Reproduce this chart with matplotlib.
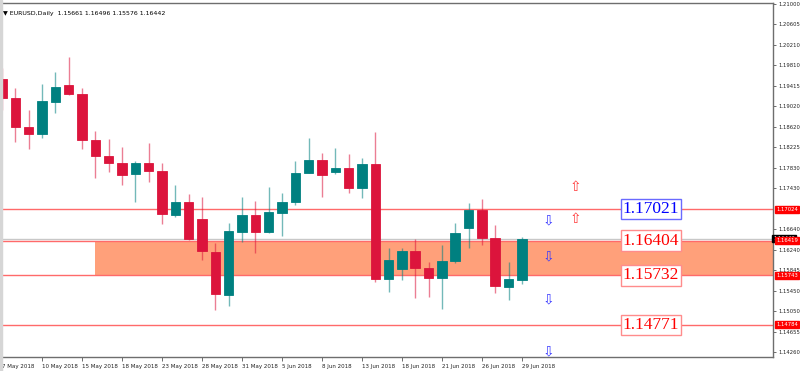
import numpy as np
import matplotlib.pyplot as plt

# daily EURUSD candles, 7 May 2018 .. 29 Jun 2018
opens = [1.19542, 1.19185, 1.18612, 1.18476, 1.19108, 1.19437, 1.19257, 1.18372, 1.18056, 1.17926,
         1.17713, 1.17915, 1.17771, 1.16919, 1.17165, 1.16830, 1.16203, 1.15364, 1.16590, 1.16908,
         1.16590, 1.16958, 1.17159, 1.17733, 1.17979, 1.17746, 1.17818, 1.17442, 1.17907, 1.15674,
         1.15868, 1.16216, 1.15887, 1.15699, 1.16017, 1.16656, 1.17016, 1.16462, 1.15525, 1.15661]
highs = [1.19755, 1.19367, 1.18947, 1.19451, 1.19683, 1.19979, 1.19379, 1.18540, 1.18380, 1.18230,
         1.17953, 1.18302, 1.17915, 1.17494, 1.17320, 1.17268, 1.16377, 1.16753, 1.17256, 1.17185,
         1.17461, 1.17334, 1.17965, 1.18411, 1.18108, 1.18211, 1.18095, 1.18012, 1.18521, 1.16280,
         1.16280, 1.16449, 1.15997, 1.16332, 1.16753, 1.17140, 1.17217, 1.16720, 1.16009, 1.16496]
lows = [1.18947, 1.18333, 1.18192, 1.18411, 1.18883, 1.19238, 1.18192, 1.17636, 1.17752, 1.17494,
        1.17165, 1.17558, 1.16733, 1.16880, 1.16429, 1.16042, 1.15073, 1.15157, 1.16396, 1.16172,
        1.16559, 1.16512, 1.17107, 1.17721, 1.17256, 1.17707, 1.17334, 1.17248, 1.15622, 1.15422,
        1.15654, 1.15300, 1.15331, 1.15087, 1.15978, 1.16280, 1.16332, 1.15408, 1.15267, 1.15576]
closes = [1.19185, 1.18612, 1.18476, 1.19121, 1.19398, 1.19251, 1.18366, 1.18062, 1.17926, 1.17688,
          1.17911, 1.17766, 1.16927, 1.17165, 1.16449, 1.16210, 1.15377, 1.16603, 1.16913, 1.16584,
          1.16971, 1.17165, 1.17733, 1.17973, 1.17682, 1.17824, 1.17442, 1.17907, 1.15674, 1.16048,
          1.16216, 1.15881, 1.15699, 1.16017, 1.16565, 1.17016, 1.16462, 1.15538, 1.15674, 1.16442]

date_labels = ['7 May 2018', '10 May 2018', '15 May 2018', '18 May 2018', '23 May 2018',
               '28 May 2018', '31 May 2018', '5 Jun 2018', '8 Jun 2018', '13 Jun 2018',
               '18 Jun 2018', '21 Jun 2018', '26 Jun 2018', '29 Jun 2018']
price_ticks = [1.21000, 1.20605, 1.20210, 1.19810, 1.19415, 1.19020, 1.18620, 1.18225,
               1.17830, 1.17430, 1.16640, 1.16240, 1.15845, 1.15450, 1.15050,
               1.14655, 1.14260]

# levels
level_lines = [1.17024, 1.16419, 1.15743, 1.14784]
zone_top, zone_bottom = 1.16419, 1.15743
zone_start = 7  # bar index where the zone begins
bid = 1.16442
box_texts = ['1.17021', '1.16404', '1.15732', '1.14771']
box_colors = ['#0000FF', '#FF0000', '#FF0000', '#FF0000']

# signal arrows (bar index, price)
down_x = [41, 41, 41, 41]
down_y = [1.16816, 1.16105, 1.15280, 1.14265]
up_x = [43, 43]
up_y = [1.17461, 1.16829]

red = '#DC143C'
teal = '#008080'

fig = plt.figure(figsize=(8, 3.71), dpi=100)
ax = fig.add_axes([0, 14 / 371, 773 / 800, 354 / 371])

idx = np.arange(len(opens))
o = np.array(opens); c = np.array(closes)
colors = [teal if cc >= oo else red for oo, cc in zip(o, c)]
ax.vlines(idx, lows, highs, colors=colors, linewidth=1, alpha=0.55, zorder=3)
ax.bar(idx, np.abs(c - o), bottom=np.minimum(o, c), width=0.72, color=colors,
       edgecolor=colors, linewidth=0.6, zorder=4)

# zone and lines
ax.fill_between([zone_start, 60], zone_bottom, zone_top, color='#FFA07A', zorder=1, linewidth=0)
ax.axhline(bid, color='#C8C8C8', linewidth=1, zorder=1.5)
for lv in level_lines:
    ax.axhline(lv, color='#FF6A6A', linewidth=1, zorder=2)

for lv, txt, col in zip(level_lines, box_texts, box_colors):
    edge = '#6A6AFF' if col == '#0000FF' else '#FF8C8C'
    ax.text(46.55, lv, txt, color=col, fontsize=12.5, family='Liberation Serif',
            ha='left', va='center', zorder=6,
            bbox=dict(boxstyle='square,pad=0.12', fc='white', ec=edge, lw=1))

for x, y in zip(down_x, down_y):
    ax.text(x, y, '\u21e9', color='#3A3AFF', fontsize=10, ha='center', va='center', zorder=6)
for x, y in zip(up_x, up_y):
    ax.text(x, y, '\u21e7', color='#FF3A3A', fontsize=10, ha='center', va='center', zorder=6)

ax.set_xlim(-0.15, 57.83)
ax.set_ylim(1.14163, 1.21019)

# axes styling
ax.spines['left'].set_visible(False)
for s in ['top', 'right', 'bottom']:
    ax.spines[s].set_color('#6E6E6E')
    ax.spines[s].set_linewidth(1)

ax.yaxis.tick_right()
ax.set_yticks(price_ticks)
ax.set_yticklabels([f'{p:.5f}' for p in price_ticks])
ax.tick_params(axis='y', length=2.5, width=0.6, color='#555555', labelsize=3.8,
               labelcolor='#222222', pad=1.5)
ax.set_xticks(idx[::3][:len(date_labels)])
ax.set_xticklabels(date_labels, ha='left')
ax.tick_params(axis='x', length=3, width=0.6, color='#555555', labelsize=4.0,
               labelcolor='#222222', pad=2)

# price labels on the right axis
ax.text(1.0, bid + 0.0002, '1.16442', transform=ax.get_yaxis_transform(), fontsize=3.8,
        color='white', va='center', ha='left', zorder=7, clip_on=False,
        bbox=dict(boxstyle='square,pad=0.15', fc='black', ec='black'))
for lv in level_lines:
    ax.text(1.004, lv, f'{lv:.5f}', transform=ax.get_yaxis_transform(), fontsize=3.8,
            color='white', va='center', ha='left', zorder=8, clip_on=False,
            bbox=dict(boxstyle='square,pad=0.2', fc='#FF0000', ec='#FF0000'))

# header
fig.text(3 / 800, 1 - 16 / 371, '\u25bc EURUSD,Daily  1.15661 1.16496 1.15576 1.16442',
         fontsize=4.5, color='black', ha='left', va='bottom')
fig.patches.append(plt.Rectangle((0, 0), 2 / 800, 1, transform=fig.transFigure,
                                 color='#D6D6D6', zorder=0))

fig.savefig('out.png', dpi=100)
